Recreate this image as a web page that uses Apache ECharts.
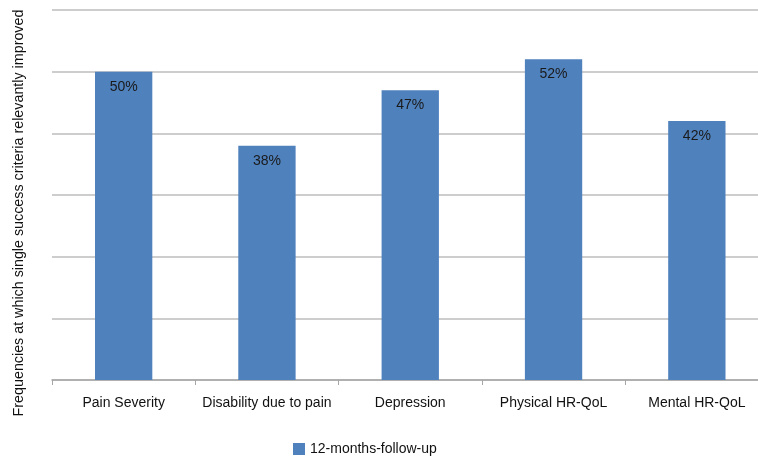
<!DOCTYPE html>
<html>
<head>
<meta charset="utf-8">
<script src="https://cdn.jsdelivr.net/npm/echarts@6/dist/echarts.min.js"></script>
<style>
  html, body { margin: 0; padding: 0; background: #fff; }
  #chart { width: 758px; height: 458px; }
</style>
</head>
<body>
<div id="chart"></div>
<script>
// Success criteria assessed at the 12-month follow-up
const categories = ['Pain Severity', 'Disability due to pain', 'Depression', 'Physical HR-QoL', 'Mental HR-QoL'];
const improvedPct = [50, 38, 47, 52, 42];
const seriesName = '12-months-follow-up';
const yAxisTitle = 'Frequencies at which single success criteria relevantly improved';

const font = 'Liberation Sans, Arial, Helvetica, sans-serif';

const chart = echarts.init(document.getElementById('chart'), null, { renderer: 'canvas' });
chart.setOption({
  animation: false,
  textStyle: { fontFamily: font },
  // the plot runs slightly past the right edge of the canvas
  grid: { left: 52, top: 10, right: -10.5, bottom: 78, containLabel: false, outerBoundsMode: 'none' },
  legend: {
    data: [seriesName],
    left: 293,
    top: 442,
    padding: 0,
    itemWidth: 12,
    itemHeight: 12,
    itemGap: 6,
    icon: 'rect',
    textStyle: { fontFamily: font, fontSize: 14, color: '#111', padding: [0, 0, 0, 0] }
  },
  xAxis: {
    type: 'category',
    data: categories,
    axisLine: { lineStyle: { color: '#a6a6a6', width: 1.5 } },
    axisTick: { show: true, length: 5, lineStyle: { color: '#a6a6a6' } },
    axisLabel: { interval: 0, fontFamily: font, fontSize: 14, color: '#111', margin: 16 }
  },
  yAxis: {
    type: 'value',
    min: 0,
    max: 60,
    interval: 10,
    name: yAxisTitle,
    nameLocation: 'middle',
    nameGap: 26,
    nameTextStyle: { fontFamily: font, fontSize: 14.3, color: '#111', padding: [0, 36, 0, 0] },
    axisLine: { show: false },
    axisTick: { show: false },
    axisLabel: { show: false },
    splitLine: { lineStyle: { color: '#bdbdbd', width: 1.5 } }
  },
  series: [{
    name: seriesName,
    type: 'bar',
    data: improvedPct,
    barWidth: '40%',
    itemStyle: { color: '#4f81bd' },
    label: {
      show: true,
      position: 'insideTop',
      distance: 8,
      formatter: p => p.value + '%',
      fontFamily: font,
      fontSize: 14,
      color: '#1a1a1a'
    }
  }]
});
</script>
</body>
</html>
